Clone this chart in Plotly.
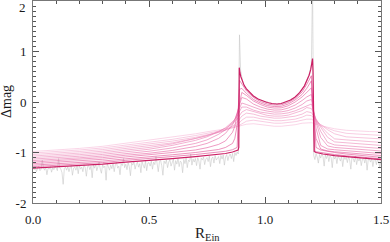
import numpy as np
import plotly.graph_objects as go

# ---------------- data ----------------
# point-like source (dark curve)
x_sharp = [0.0, 0.1, 0.2, 0.3, 0.4, 0.5, 0.6, 0.7, 0.75, 0.8,
           0.83, 0.86, 0.875, 0.884, 0.887, 0.889, 0.892, 0.896, 0.9, 0.91,
           0.92, 0.935, 0.95, 0.97, 0.99, 1.01, 1.03, 1.05, 1.07, 1.09,
           1.11, 1.13, 1.15, 1.17, 1.18, 1.19, 1.197, 1.202, 1.205, 1.207,
           1.209, 1.212, 1.22, 1.25, 1.3, 1.35, 1.4, 1.45, 1.5]
y_sharp = [-1.31, -1.285, -1.26, -1.23, -1.19, -1.16, -1.12, -1.08, -1.06, -1.04,
           -1.02, -0.99, -0.97, -0.95, -0.9, 0.68, 0.58, 0.5, 0.44, 0.33,
           0.26, 0.18, 0.12, 0.06, 0.02, -0.01, -0.03, -0.04, -0.03, 0.0,
           0.04, 0.1, 0.19, 0.32, 0.41, 0.53, 0.64, 0.76, 0.86, 0.6,
           -0.3, -0.98, -1.0, -1.03, -1.06, -1.08, -1.10, -1.12, -1.14]

# finite-source curves, shared grid
x_grid = [0.0, 0.1, 0.2, 0.3, 0.4, 0.5, 0.6, 0.7, 0.75, 0.8,
          0.83, 0.86, 0.87, 0.88, 0.89, 0.9, 0.92, 0.95, 0.98, 1.01,
          1.04, 1.07, 1.1, 1.13, 1.16, 1.18, 1.2, 1.21, 1.215, 1.22,
          1.24, 1.27, 1.3, 1.35, 1.4, 1.45, 1.5]

src01 = [-1.28, -1.255, -1.23, -1.20, -1.155, -1.125, -1.08, -1.04, -1.02, -0.995,
         -0.975, -0.945, -0.93, -0.9, 0.43, 0.36, 0.22, 0.09, 0.01, -0.04,
         -0.06, -0.055, -0.01, 0.07, 0.2, 0.35, 0.52, -0.5, -0.97, -0.985,
         -1.0, -1.02, -1.04, -1.065, -1.085, -1.105, -1.125]
src02 = [-1.25, -1.225, -1.20, -1.17, -1.125, -1.09, -1.045, -1.0, -0.975, -0.94,
         -0.9, -0.82, -0.72, -0.45, 0.25, 0.27, 0.17, 0.05, -0.02, -0.07,
         -0.09, -0.085, -0.04, 0.04, 0.15, 0.27, 0.42, -0.3, -0.65, -0.9,
         -0.95, -0.98, -1.0, -1.03, -1.05, -1.07, -1.095]
src03 = [-1.22, -1.195, -1.167, -1.134, -1.088, -1.05, -1.0, -0.95, -0.905, -0.84,
         -0.77, -0.6, -0.48, -0.25, 0.0, 0.19, 0.13, 0.02, -0.05, -0.1,
         -0.12, -0.115, -0.075, 0.0, 0.1, 0.2, 0.28, -0.35, -0.55, -0.72,
         -0.93, -0.97, -0.985, -1.005, -1.025, -1.045, -1.06]
src04 = [-1.19, -1.165, -1.136, -1.102, -1.054, -1.015, -0.96, -0.88, -0.82, -0.72,
         -0.62, -0.45, -0.36, -0.2, -0.02, 0.09, 0.06, -0.04, -0.1, -0.14,
         -0.16, -0.155, -0.12, -0.06, 0.03, 0.1, 0.15, -0.25, -0.4, -0.52,
         -0.86, -0.93, -0.945, -0.962, -0.98, -1.0, -1.02]
src05 = [-1.16, -1.135, -1.105, -1.07, -1.02, -0.975, -0.91, -0.82, -0.75, -0.64,
         -0.55, -0.41, -0.34, -0.24, -0.12, -0.02, -0.05, -0.1, -0.15, -0.18,
         -0.2, -0.195, -0.17, -0.12, -0.05, 0.02, 0.05, -0.2, -0.3, -0.4,
         -0.7, -0.87, -0.9, -0.915, -0.93, -0.95, -0.97]
src06 = [-1.13, -1.105, -1.074, -1.038, -0.986, -0.935, -0.86, -0.76, -0.69, -0.59,
         -0.51, -0.4, -0.35, -0.28, -0.2, -0.1, -0.1, -0.16, -0.2, -0.225,
         -0.24, -0.235, -0.215, -0.175, -0.12, -0.07, -0.04, -0.2, -0.28, -0.36,
         -0.58, -0.8, -0.85, -0.865, -0.88, -0.9, -0.92]
src07 = [-1.10, -1.075, -1.043, -1.006, -0.952, -0.9, -0.83, -0.73, -0.67, -0.58,
         -0.52, -0.43, -0.39, -0.34, -0.27, -0.2, -0.15, -0.19, -0.24, -0.265,
         -0.28, -0.278, -0.26, -0.22, -0.17, -0.11, -0.13, -0.22, -0.28, -0.34,
         -0.5, -0.7, -0.79, -0.81, -0.825, -0.84, -0.86]
src08 = [-1.07, -1.045, -1.012, -0.974, -0.918, -0.87, -0.81, -0.72, -0.665, -0.6,
         -0.55, -0.48, -0.45, -0.4, -0.34, -0.28, -0.22, -0.24, -0.28, -0.305,
         -0.32, -0.318, -0.305, -0.28, -0.24, -0.19, -0.21, -0.27, -0.31, -0.35,
         -0.47, -0.62, -0.73, -0.75, -0.765, -0.78, -0.8]
src09 = [-1.04, -1.015, -0.981, -0.942, -0.884, -0.836, -0.775, -0.7, -0.655, -0.6,
         -0.56, -0.5, -0.48, -0.45, -0.41, -0.36, -0.3, -0.3, -0.33, -0.355,
         -0.37, -0.37, -0.36, -0.34, -0.3, -0.26, -0.27, -0.31, -0.34, -0.37,
         -0.45, -0.55, -0.63, -0.69, -0.7, -0.715, -0.73]
src10 = [-1.01, -0.985, -0.95, -0.91, -0.85, -0.8, -0.74, -0.665, -0.62, -0.58,
         -0.55, -0.51, -0.5, -0.48, -0.46, -0.43, -0.38, -0.36, -0.38, -0.405,
         -0.42, -0.42, -0.41, -0.39, -0.36, -0.34, -0.34, -0.36, -0.38, -0.4,
         -0.45, -0.52, -0.57, -0.62, -0.635, -0.645, -0.66]
src11 = [-0.98, -0.955, -0.919, -0.878, -0.816, -0.764, -0.702, -0.63, -0.59, -0.56,
         -0.54, -0.51, -0.5, -0.49, -0.47, -0.46, -0.44, -0.43, -0.45, -0.47,
         -0.48, -0.48, -0.47, -0.45, -0.42, -0.41, -0.41, -0.42, -0.43, -0.44,
         -0.47, -0.5, -0.53, -0.56, -0.575, -0.585, -0.59]
sources = [src01, src02, src03, src04, src05, src06, src07, src08, src09, src10, src11]

# observed (noisy) light curve, sampled every 0.005 from 0.000 to 1.500
obs_step = 0.005
obs_y = [
    -1.30, -1.34, -1.29, -1.38, -1.31, -1.27, -1.36, -1.33, -1.15, -1.30,   # 0.000
    -1.35, -1.29, -1.44, -1.31, -1.33, -1.28, -1.39, -1.30, -1.34, -1.27,   # 0.050
    -1.31, -1.36, -1.12, -1.30, -1.33, -1.40, -1.63, -1.32, -1.29, -1.35,   # 0.100
    -1.28, -1.38, -1.30, -1.26, -1.45, -1.31, -1.29, -1.35, -1.27, -1.42,   # 0.150
    -1.25, -1.33, -1.29, -1.38, -1.24, -1.30, -1.47, -1.28, -1.26, -1.34,   # 0.200
    -1.27, -1.50, -1.25, -1.31, -1.23, -1.36, -1.28, -1.19, -1.33, -1.41,   # 0.250
    -1.24, -1.30, -1.27, -1.55, -1.22, -1.29, -1.35, -1.25, -1.32, -1.21,   # 0.300
    -1.38, -1.24, -1.20, -1.31, -1.27, -1.44, -1.22, -1.26, -1.12, -1.30,   # 0.350
    -1.23, -1.34, -1.20, -1.28, -1.46, -1.21, -1.25, -1.18, -1.33, -1.24,   # 0.400
    -1.19, -1.29, -1.22, -1.40, -1.18, -1.25, -1.31, -1.17, -1.36, -1.21,   # 0.450
    -1.20, -1.27, -1.17, -1.33, -1.19, -1.24, -1.08, -1.22, -1.38, -1.18,   # 0.500
    -1.16, -1.26, -1.45, -1.17, -1.22, -1.15, -1.30, -1.19, -1.14, -1.27,   # 0.550
    -1.18, -1.13, -1.35, -1.16, -1.23, -1.12, -1.28, -1.17, -1.20, -1.40,   # 0.600
    -1.14, -1.22, -1.11, -1.30, -1.15, -1.18, -1.03, -1.25, -1.13, -1.19,   # 0.650
    -1.12, -1.26, -1.10, -1.17, -1.33, -1.11, -1.15, -1.09, -1.24, -1.13,   # 0.700
    -1.10, -1.18, -1.07, -1.28, -1.12, -1.09, -1.21, -1.06, -1.15, -1.11,   # 0.750
    -1.08, -1.22, -1.06, -1.13, -1.05, -1.25, -1.09, -1.04, -1.16, -1.07,   # 0.800
    -1.03, -1.12, -1.02, -1.18, -1.00, -1.06, -0.99, -1.03, 1.33, 0.62,     # 0.850
    0.46, 0.38, 0.33, 0.28, 0.25, 0.22, 0.19, 0.17, 0.15, 0.13,             # 0.900
    0.12, 0.10, 0.09, 0.07, 0.07, 0.05, 0.04, 0.03, 0.03, 0.01,             # 0.950
    0.00, -0.01, 0.01, -0.02, -0.03, -0.02, -0.04, -0.03, -0.05, -0.03,     # 1.000
    -0.04, -0.05, -0.03, -0.04, -0.02, -0.04, -0.03, -0.01, -0.02, 0.01,    # 1.050
    0.01, 0.03, 0.04, 0.06, 0.06, 0.09, 0.10, 0.12, 0.13, 0.16,             # 1.100
    0.19, 0.21, 0.24, 0.28, 0.32, 0.37, 0.41, 0.47, 0.54, 0.62,             # 1.150
    0.74, 2.40, -1.06, -1.14, -1.02, -1.09, -1.21, -1.04, -1.11, -1.03,     # 1.200
    -1.08, -1.27, -1.05, -1.12, -1.04, -1.18, -1.07, -1.10, -1.30, -1.06,   # 1.250
    -1.13, -1.08, -1.22, -1.06, -1.11, -1.17, -1.07, -1.28, -1.09, -1.14,   # 1.300
    -1.10, -1.20, -1.08, -1.15, -1.33, -1.09, -1.12, -1.19, -1.07, -1.24,   # 1.350
    -1.12, -1.17, -1.10, -1.26, -1.13, -1.11, -1.21, -1.09, -1.35, -1.14,   # 1.400
    -1.13, -1.19, -1.12, -1.28, -1.15, -1.12, -1.24, -1.14, -1.18, -1.31,   # 1.450
    -1.14,                                                                  # 1.500
]
obs_x = np.round(np.arange(len(obs_y)) * obs_step, 4)

x_ticks = [0.0, 0.5, 1.0, 1.5]
x_labels = ["0.0", "0.5", "1.0", "1.5"]
y_ticks = [-2, -1, 0, 1]
y_labels = ["-2", "-1", "0", "1"]

# ---------------- figure ----------------
FONT = "Liberation Serif"
TXT = "#1a1a1a"
fig = go.Figure()

fig.add_trace(go.Scatter(x=obs_x, y=obs_y, mode="lines",
                         line=dict(color="#c8c8c8", width=0.6),
                         hoverinfo="skip"))

c0 = np.array([222, 62, 138])
c1 = np.array([246, 186, 216])
n = len(sources)
for k in reversed(range(n)):
    t = k / (n - 1)
    c = (c0 + (c1 - c0) * t).astype(int)
    fig.add_trace(go.Scatter(x=x_grid, y=sources[k], mode="lines",
                             line=dict(color=f"rgb({c[0]},{c[1]},{c[2]})", width=0.6),
                             hoverinfo="skip"))

fig.add_trace(go.Scatter(x=x_sharp, y=y_sharp, mode="lines",
                         line=dict(color="rgb(204,30,100)", width=1.2),
                         hoverinfo="skip"))

axis_common = dict(
    showgrid=False, zeroline=False, showline=True, linecolor="#777777", linewidth=1,
    mirror="allticks", ticks="inside", ticklen=6, tickwidth=1, tickcolor="#555555",
    tickfont=dict(family=FONT, size=13, color=TXT), automargin=False,
)

fig.update_layout(
    width=390, height=242,
    margin=dict(l=33, r=9, t=1, b=39, pad=0),
    paper_bgcolor="white", plot_bgcolor="white",
    showlegend=False,
    font=dict(family=FONT, color=TXT),
    xaxis=dict(range=[0, 1.5], tickvals=x_ticks, ticktext=x_labels,
               minor=dict(ticks="inside", dtick=0.1, ticklen=3, tickcolor="#555555"),
               ticklabelstandoff=4,
               **axis_common),
    yaxis=dict(range=[-2, 2], tickvals=y_ticks, ticktext=y_labels,
               minor=dict(ticks="inside", dtick=0.1, ticklen=3, tickcolor="#555555"),
               ticklabelstandoff=3,
               **axis_common),
)
fig.add_annotation(x=0, y=2, xref="paper", yref="y", text="2", showarrow=False,
                   xanchor="right", yanchor="middle", xshift=-5, yshift=-6,
                   font=dict(family=FONT, size=13, color=TXT))
fig.add_annotation(x=0, y=0.5, xref="paper", yref="paper", text="Δmag", showarrow=False,
                   textangle=-90, xanchor="center", yanchor="middle", xshift=-27,
                   font=dict(family=FONT, size=14, color=TXT))
fig.add_annotation(x=0.5, y=0, xref="paper", yref="paper", text="R<sub>Ein</sub>",
                   showarrow=False, xanchor="center", yanchor="middle", yshift=-31,
                   font=dict(family=FONT, size=15, color=TXT))

fig.write_html("out.html", config={"displayModeBar": False},
               post_script="document.body.style.margin='0';document.body.style.padding='0';")
